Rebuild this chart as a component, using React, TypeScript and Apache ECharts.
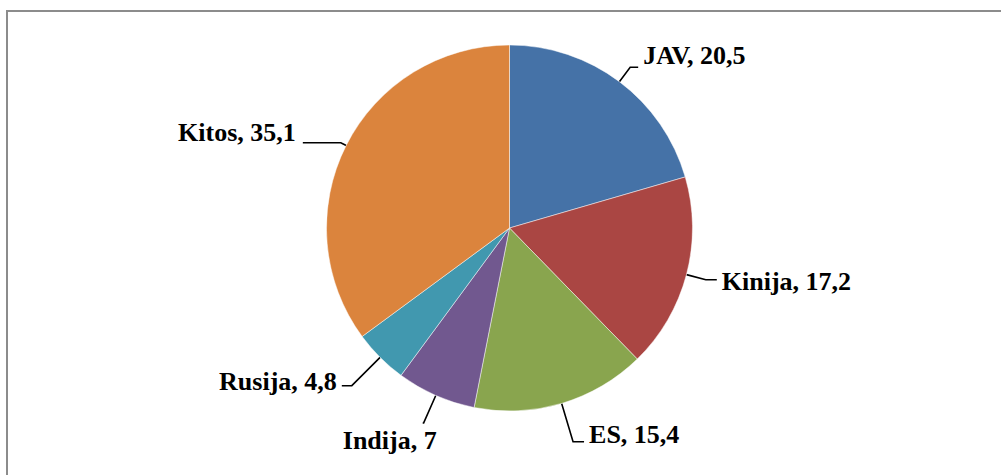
import React, { useEffect, useRef } from "react";
import * as echarts from "echarts";

const categories = ["JAV", "Kinija", "ES", "Indija", "Rusija", "Kitos"];
const values = [20.5, 17.2, 15.4, 7, 4.8, 35.1];
const colors = ["#4572A7", "#AA4643", "#89A54E", "#71588F", "#4198AF", "#DB843D"];

// label-line lengths and text offsets per slice (style only)
const labelLen = [18, 20, 40, 30, 40, 6];
const labelLen2 = [8, 11, 11, 1, 10, 38];
const labelDist = [5, 5, 5, -14, 5, 7];
const labelShiftY = [-11.5, 2, -7, 18, -4, -10];

const fmt = (v: number) => String(v).replace(".", ",");

export default function App() {
  const ref = useRef<HTMLDivElement>(null);
  useEffect(() => {
    if (!ref.current) return;
    const chart = echarts.init(ref.current, undefined, { renderer: "svg" });
    chart.setOption({
      animation: false,
      backgroundColor: "#ffffff",
      graphic: [
        {
          type: "rect",
          shape: { x: 7, y: 11, width: 1100, height: 600 },
          style: { fill: "none", stroke: "#8c8c8c", lineWidth: 2 },
          silent: true,
        },
      ],
      series: [
        {
          type: "pie",
          center: [509.5, 228],
          radius: 183,
          startAngle: 90,
          clockwise: true,
          avoidLabelOverlap: false,
          emphasis: { disabled: true },
          itemStyle: { borderColor: "rgba(255,255,255,0.6)", borderWidth: 0.8 },
          label: {
            show: true,
            position: "outside",
            fontFamily: "Liberation Serif",
            fontWeight: "bold",
            fontSize: 26,
            color: "#000",
            formatter: (p: any) => `${p.name}, ${fmt(p.value)}`,
          },
          labelLine: {
            show: true,
            smooth: false,
            minTurnAngle: 0,
            maxSurfaceAngle: 180,
            lineStyle: { color: "#000", width: 1.6 },
          },
          labelLayout: (params: any) => {
            const r = params.labelRect;
            return {
              y: r.y + r.height / 2 + labelShiftY[params.dataIndex],
              labelLinePoints: params.labelLinePoints,
            };
          },
          data: categories.map((name, i) => ({
            name,
            value: values[i],
            itemStyle: { color: colors[i] },
            label: { distanceToLabelLine: labelDist[i] },
            labelLine: { length: labelLen[i], length2: labelLen2[i] },
          })),
        },
      ],
    });
    return () => chart.dispose();
  }, []);
  return (
    <div
      ref={ref}
      style={{ position: "fixed", left: 0, top: 0, width: 1001, height: 475 }}
    />
  );
}
